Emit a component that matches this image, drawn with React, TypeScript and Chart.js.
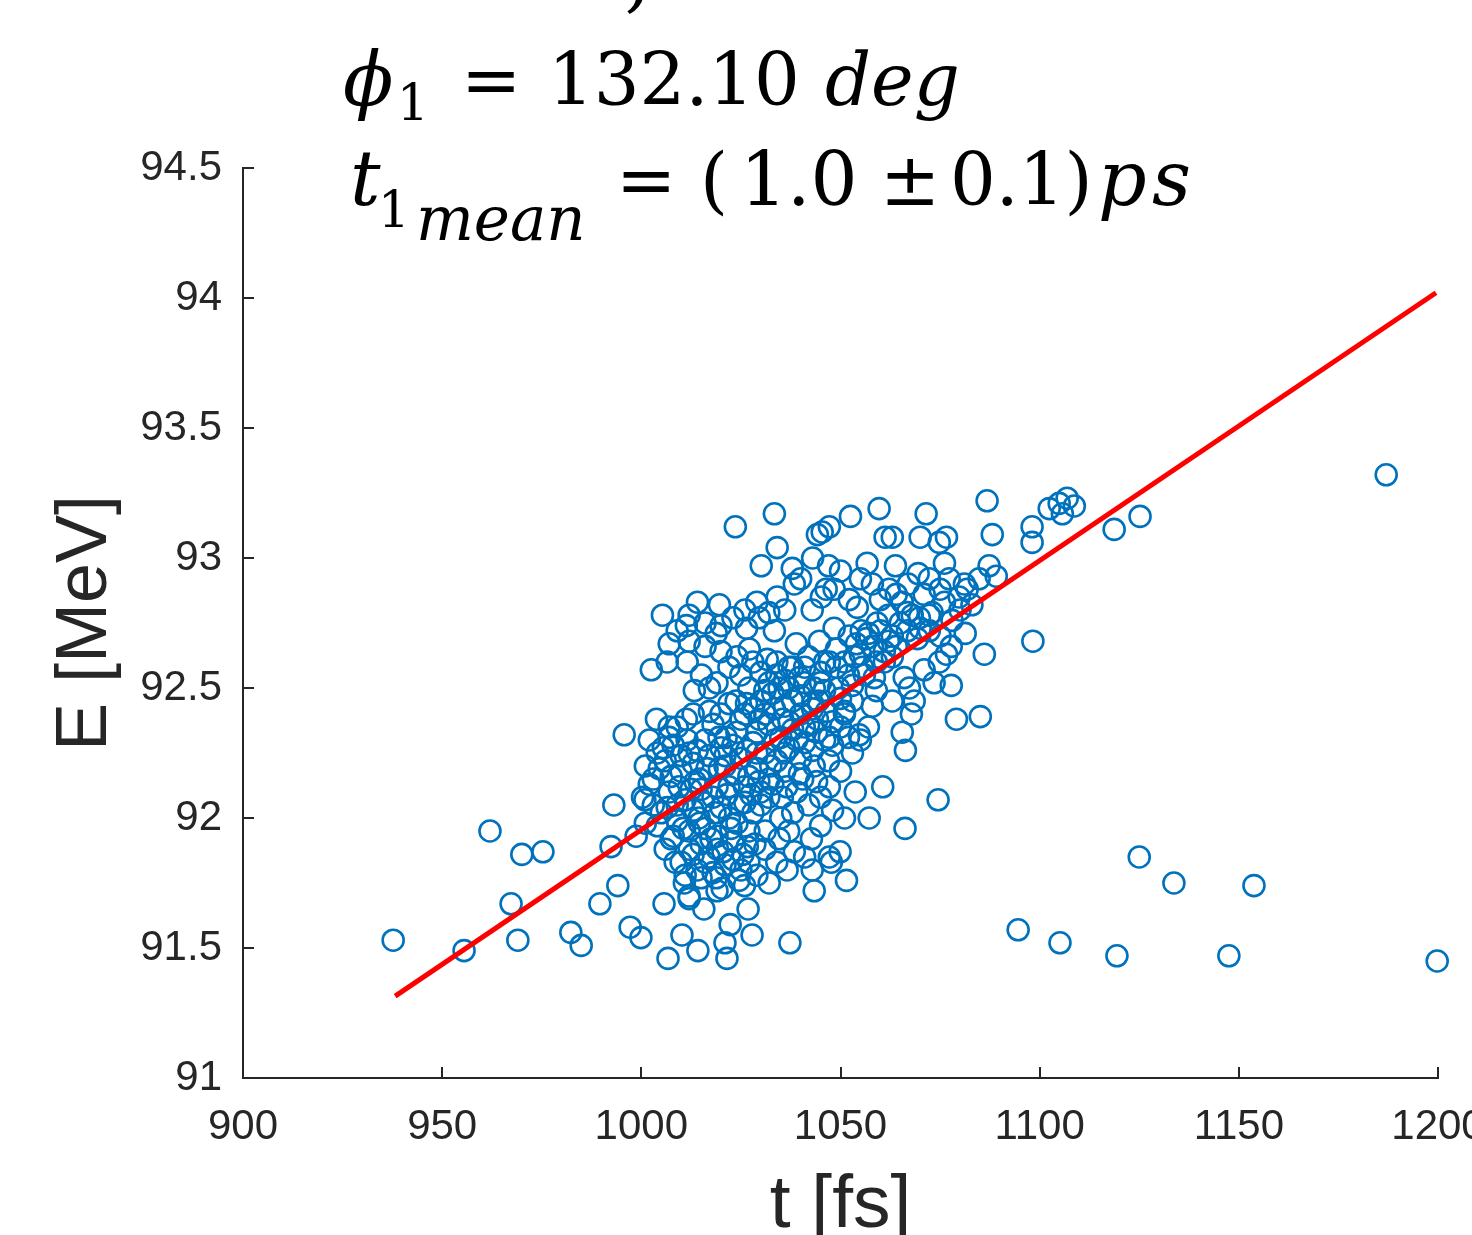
import React, { useEffect, useRef } from 'react';
import { Chart, registerables } from 'chart.js';

Chart.register(...registerables);

// ---------- axis ticks ----------
const xTickValues = [900, 950, 1000, 1050, 1100, 1150, 1200];
const xTickLabels = ['900', '950', '1000', '1050', '1100', '1150', '1200'];
const yTickValues = [91, 91.5, 92, 92.5, 93, 93.5, 94, 94.5];
const yTickLabels = ['91', '91.5', '92', '92.5', '93', '93.5', '94', '94.5'];

// ---------- measured shots: [t (fs), E (MeV)] ----------
const outlierShots: [number, number][] = [
  [937.7, 91.53], [955.5, 91.49], [962.0, 91.95], [967.3, 91.67], [969.0, 91.53], [970.0, 91.86],
  [975.3, 91.87], [982.3, 91.56], [984.9, 91.51], [989.6, 91.67], [992.4, 91.89], [993.1, 92.05],
  [994.1, 91.74], [995.7, 92.32], [997.2, 91.58], [998.7, 91.93], [999.9, 91.54], [1000.9, 92.07],
  [1006.7, 91.46], [1005.7, 91.67], [1010.2, 91.55], [1014.2, 91.49], [1015.7, 91.65], [1021.0, 91.52],
  [1021.5, 91.46], [1022.3, 91.59], [1027.8, 91.55], [1026.8, 91.65], [1037.3, 91.52], [1094.6, 91.57],
  [1105.1, 91.52], [1119.4, 91.47], [1125.0, 91.85], [1133.7, 91.75], [1147.5, 91.47], [1153.8, 91.74],
  [1199.8, 91.45], [1187.0, 93.32], [1125.2, 93.16], [1118.7, 93.11], [1098.3, 92.68], [1074.5, 92.07],
  [1066.2, 91.96], [1060.6, 92.12],
];

const upperShots: [number, number][] = [
  [1023.6, 93.12], [1033.4, 93.17], [1052.5, 93.16], [1059.7, 93.19], [1071.5, 93.17], [1086.8, 93.22],
  [1102.4, 93.19], [1104.9, 93.21], [1106.9, 93.23], [1108.7, 93.20], [1105.7, 93.17], [1098.1, 93.12],
  [1098.1, 93.06], [1088.1, 93.09], [1034.1, 93.04], [1044.2, 93.09], [1045.4, 93.10], [1047.2, 93.12],
  [1061.2, 93.08], [1063.0, 93.08], [1070.0, 93.08], [1074.8, 93.06], [1076.6, 93.08], [1030.1, 92.97],
  [1037.9, 92.96], [1046.4, 92.88], [1048.4, 92.88], [1056.7, 92.98], [1063.8, 92.97], [1069.5, 92.94],
  [1072.3, 92.92], [1076.1, 92.98], [1077.3, 92.92], [1081.1, 92.90], [1084.8, 92.92], [1087.3, 92.97],
  [1089.1, 92.93], [1038.4, 92.90], [1034.1, 92.85], [1042.9, 92.80], [1045.2, 92.85], [1052.2, 92.84],
  [1054.2, 92.81], [1062.2, 92.88], [1065.5, 92.83], [1066.8, 92.79], [1069.8, 92.77], [1072.3, 92.78],
  [1076.1, 92.83], [1079.8, 92.85], [1081.8, 92.88],
];

const midShots: [number, number][] = [
  [1005.3, 92.78], [1014.1, 92.83], [1019.6, 92.82], [1011.3, 92.74], [1018.8, 92.71], [1026.4, 92.73],
  [1029.6, 92.77], [1033.4, 92.72], [1038.9, 92.67], [1044.7, 92.68], [1048.4, 92.73], [1052.2, 92.70],
  [1055.2, 92.72], [1056.5, 92.69], [1059.2, 92.75], [1063.0, 92.70], [1066.8, 92.72], [1069.3, 92.69],
  [1072.3, 92.72], [1076.6, 92.63], [1077.8, 92.66], [1081.3, 92.71], [1086.1, 92.63], [1002.5, 92.57],
  [1006.5, 92.60], [1011.5, 92.60], [1015.1, 92.55], [1013.3, 92.49], [1023.8, 92.45], [1017.1, 92.50],
  [1027.1, 92.65], [1031.6, 92.61], [1034.6, 92.50], [1037.1, 92.58], [1039.7, 92.54], [1043.4, 92.50],
  [1047.2, 92.60], [1051.0, 92.60], [1053.5, 92.62], [1055.5, 92.58], [1058.5, 92.54], [1059.0, 92.49],
  [1066.0, 92.54], [1067.3, 92.50], [1067.8, 92.40], [1074.8, 92.60], [1077.8, 92.51], [1068.5, 92.45],
  [1071.0, 92.57], [1073.5, 92.52], [1063.0, 92.45], [1061.0, 92.60],
];

const lowerShots: [number, number][] = [
  [1003.8, 92.38], [1007.0, 92.35], [1011.3, 92.38], [1017.1, 92.41], [1021.3, 92.31], [1026.4, 92.44],
  [1029.6, 92.38], [1033.4, 92.42], [1037.1, 92.37], [1040.9, 92.35], [1044.2, 92.38], [1047.2, 92.31],
  [1051.0, 92.40], [1054.7, 92.32], [1065.5, 92.33], [1066.3, 92.26], [1079.1, 92.38], [1085.1, 92.39],
  [1002.0, 92.13], [1000.3, 92.08], [1004.5, 92.19], [1009.5, 92.12], [1014.6, 92.15], [1019.6, 92.19],
  [1025.9, 92.12], [1032.1, 92.15], [1035.4, 92.08], [1039.7, 92.17], [1043.4, 92.20], [1047.2, 92.12],
  [1053.7, 92.10], [1006.5, 92.04], [1004.0, 91.97], [1007.5, 91.92], [1012.0, 91.88], [1014.6, 91.98],
  [1019.1, 91.88], [1022.1, 92.00], [1026.6, 91.89], [1031.1, 91.95], [1034.6, 91.92], [1038.4, 91.87],
  [1042.7, 91.92], [1047.2, 91.85], [1051.0, 92.00], [1049.9, 91.87], [1047.7, 91.83], [1042.9, 91.80],
  [1057.2, 92.00], [1010.8, 91.75], [1012.0, 91.69], [1018.8, 91.77], [1020.3, 91.73], [1025.9, 91.74],
  [1032.1, 91.75], [1036.6, 91.80], [1043.4, 91.72], [1051.5, 91.76],
];

const coreLowShots: [number, number][] = [
  [1008, 92.28], [1012, 92.25], [1016, 92.30], [1020, 92.27], [1024, 92.33], [1028, 92.29],
  [1006, 92.22], [1010, 92.18], [1013, 92.21], [1017, 92.24], [1021, 92.20], [1025, 92.23], [1029, 92.19],
  [1007, 92.10], [1011, 92.07], [1015, 92.11], [1018, 92.08], [1022, 92.12], [1026, 92.06], [1030, 92.10],
  [1005, 92.02], [1009, 91.99], [1013, 92.03], [1016, 91.96], [1020, 92.04], [1024, 91.98], [1028, 92.02],
  [1008, 91.93], [1012, 91.95], [1015, 91.90], [1019, 91.93], [1023, 91.91], [1027, 91.95],
  [1010, 91.83], [1014, 91.80], [1017, 91.85], [1021, 91.82], [1025, 91.80],
  [1003, 92.15], [1004, 92.25], [1002, 92.30], [1001, 92.20], [1003, 92.05], [1001, 91.98],
  [1009, 92.35], [1013, 92.40], [1018, 92.36], [1022, 92.44], [1026, 92.40],
  [1015, 91.77], [1019, 91.72], [1012, 91.70],
];

const coreHighShots: [number, number][] = [
  [1030, 92.45], [1033, 92.48], [1036, 92.43], [1040, 92.47], [1043, 92.44], [1046, 92.49], [1050, 92.46],
  [1053, 92.51], [1056, 92.55], [1059, 92.60], [1029, 92.33], [1032, 92.36], [1035, 92.31], [1038, 92.34],
  [1041, 92.29], [1044, 92.33], [1048, 92.37], [1051, 92.41], [1031, 92.25], [1034, 92.22], [1037, 92.27],
  [1040, 92.23], [1043, 92.26], [1047, 92.22], [1030, 92.56], [1034, 92.60], [1038, 92.58], [1042, 92.62],
  [1045, 92.56], [1049, 92.58], [1052, 92.55], [1055, 92.63], [1058, 92.66], [1061, 92.64], [1063, 92.62],
  [1032, 92.52], [1036, 92.53], [1041, 92.52], [1046, 92.60], [1049, 92.65], [1054, 92.67], [1062, 92.68],
  [1064, 92.66], [1060, 92.72], [1057, 92.71], [1027, 92.50], [1025, 92.55], [1022, 92.58], [1019, 92.52],
  [1033, 92.13], [1036, 92.18], [1039, 92.10], [1042, 92.05], [1045, 92.08], [1038, 92.02], [1035, 92.00],
  [1030, 92.05], [1027, 92.16], [1031, 91.88], [1034, 91.83], [1029, 91.78], [1037, 91.95], [1041, 91.85],
  [1045, 91.97], [1048, 92.03], [1044, 92.14], [1050, 92.18], [1053, 92.25], [1055, 92.30], [1057, 92.35],
  [1058, 92.43], [1052, 92.31], [1048, 92.28],
];

const bandShots: [number, number][] = [
  [1062, 92.78], [1065, 92.75], [1068, 92.78], [1070, 92.73], [1073, 92.79], [1075, 92.70], [1078, 92.76],
  [1080, 92.80], [1083, 92.82], [1064, 92.86], [1060, 92.84], [1071, 92.86], [1075, 92.88], [1067, 92.90],
  [1058, 92.90], [1055, 92.92], [1047, 92.97], [1043, 93.00], [1050, 92.95], [1040, 92.92], [1036, 92.80],
  [1032, 92.79], [1029, 92.83], [1026, 92.80], [1023, 92.77], [1020, 92.74], [1016, 92.75], [1012, 92.78],
  [1009, 92.72], [1007, 92.67], [1012, 92.68], [1016, 92.66], [1020, 92.64], [1024, 92.62], [1028, 92.60],
];

const denseCoreShots: [number, number][] = [
  [1005.5, 92.27], [1007.5, 92.16], [1009, 92.05], [1010.5, 91.96], [1011.5, 92.30], [1013.5, 92.14],
  [1014.5, 92.00], [1016.5, 92.19], [1017.5, 91.92], [1018.5, 92.02], [1019.5, 92.31], [1021.5, 92.09],
  [1022.5, 91.96], [1023.5, 92.17], [1024.5, 92.05], [1025.5, 91.86], [1026.5, 92.26], [1027.5, 92.09],
  [1028.5, 91.90], [1029.5, 92.14], [1006, 91.88], [1008.5, 91.83], [1011, 91.78], [1013, 91.86],
  [1016, 91.83], [1018, 91.79], [1020.5, 91.87], [1023, 91.84], [1024.5, 91.76], [1027, 91.83],
  [1012.5, 92.11], [1015.5, 92.06], [1019, 92.12], [1021, 92.24], [1014, 92.26], [1010, 92.24],
  [1007, 92.31], [1023, 92.28], [1025, 92.38], [1020, 92.40], [1031, 92.40], [1033.5, 92.30],
  [1035.5, 92.38], [1038, 92.45], [1040, 92.40], [1042, 92.36], [1044.5, 92.45], [1046.5, 92.41],
  [1049.5, 92.50], [1032.5, 92.20], [1036, 92.25], [1039, 92.30], [1043, 92.42], [1046, 92.30],
  [1050, 92.35], [1053, 92.45], [1045, 92.52], [1041, 92.58], [1037, 92.50], [1034, 92.55],
  [1031, 92.49], [1028, 92.42], [1029, 92.25], [1032, 92.08], [1036.5, 92.12], [1040.5, 92.15],
];

// ---------- linear fit ----------
const fitT = [938.2, 1199.5];
const fitE = [91.315, 94.02];

const allShots = [
  ...outlierShots, ...upperShots, ...midShots, ...lowerShots,
  ...coreLowShots, ...coreHighShots, ...bandShots, ...denseCoreShots,
];

const AXIS_COLOR = '#262626';

const mathTitlePlugin = {
  id: 'mathTitle',
  afterDraw(chart: any) {
    const ctx = chart.ctx as CanvasRenderingContext2D;
    ctx.save();
    ctx.fillStyle = '#000000';
    ctx.textAlign = 'left';
    ctx.textBaseline = 'alphabetic';
    const seg = (text: string, x: number, y: number, size: number, italic: boolean) => {
      ctx.font = `${italic ? 'italic ' : ''}${size}px "DejaVu Serif", serif`;
      ctx.fillText(text, x, y);
    };
    // partially visible line above
    seg(',', 626, 4, 72, true);
    // line 1
    seg('ϕ', 343, 105, 74, true);
    seg('1', 397, 120, 50, false);
    seg('=', 461, 105, 72, false);
    seg('132.10', 548, 105, 72, false);
    seg('deg', 825, 105, 72, true);
    // line 2
    seg('t', 350, 205, 76, true);
    seg('1', 378, 227, 50, false);
    seg('mean', 416, 240, 61, true);
    seg('=', 616, 205, 72, false);
    seg('(', 700, 205, 72, false);
    seg('1.0', 740, 205, 74, false);
    seg('±', 880, 205, 72, false);
    seg('0.1)', 950, 205, 72, false);
    seg('p', 1098, 205, 76, true);
    seg('s', 1152, 205, 76, true);
    ctx.restore();
  },
};

export default function App() {
  const canvasRef = useRef<HTMLCanvasElement | null>(null);

  useEffect(() => {
    if (!canvasRef.current) return;
    const chart = new Chart(canvasRef.current, {
      type: 'scatter',
      data: {
        datasets: [
          {
            type: 'line',
            label: 'fit',
            data: fitT.map((t, i) => ({ x: t, y: fitE[i] })),
            borderColor: '#FF0000',
            borderWidth: 5,
            pointRadius: 0,
            showLine: true,
            fill: false,
            order: 0,
          } as any,
          {
            type: 'scatter',
            label: 'shots',
            data: allShots.map(([t, e]) => ({ x: t, y: e })),
            borderColor: '#0072BD',
            backgroundColor: 'rgba(0,0,0,0)',
            pointStyle: 'circle',
            pointRadius: 10.5,
            pointBorderWidth: 2.6,
            borderWidth: 2.6,
            showLine: false,
            clip: false,
            order: 1,
          } as any,
        ],
      },
      options: {
        animation: false,
        responsive: false,
        devicePixelRatio: 1,
        events: [],
        layout: { padding: { left: 0, top: 168, right: 34, bottom: 0 } },
        plugins: {
          legend: { display: false },
          tooltip: { enabled: false },
          title: { display: false },
        },
        scales: {
          x: {
            type: 'linear',
            position: 'bottom',
            min: 900,
            max: 1200,
            afterBuildTicks: (s: any) => {
              s.ticks = xTickValues.map((v) => ({ value: v }));
            },
            afterFit: (s: any) => {
              s.height = 157;
              s.paddingLeft = 0;
              s.paddingRight = 0;
              s.paddingTop = 0;
              s.paddingBottom = 0;
            },
            ticks: {
              callback: (_v: any, i: number) => xTickLabels[i],
              color: AXIS_COLOR,
              font: { family: '"Liberation Sans", Arial, sans-serif', size: 42 },
              padding: 35,
              maxRotation: 0,
              minRotation: 0,
              autoSkip: false,
            },
            grid: {
              display: true,
              drawOnChartArea: false,
              drawTicks: true,
              tickLength: -11,
              color: AXIS_COLOR,
              lineWidth: 2,
            },
            border: { display: true, color: AXIS_COLOR, width: 2 },
            title: {
              display: true,
              text: 't [fs]',
              color: AXIS_COLOR,
              font: { family: '"Liberation Sans", Arial, sans-serif', size: 75, lineHeight: 0.6 },
              padding: { top: 0, bottom: 6 },
            },
          },
          y: {
            type: 'linear',
            position: 'left',
            min: 91,
            max: 94.5,
            afterBuildTicks: (s: any) => {
              s.ticks = yTickValues.map((v) => ({ value: v }));
            },
            afterFit: (s: any) => {
              s.width = 243;
              s.paddingLeft = 0;
              s.paddingRight = 0;
              s.paddingTop = 0;
              s.paddingBottom = 0;
            },
            ticks: {
              callback: (_v: any, i: number) => yTickLabels[i],
              color: AXIS_COLOR,
              font: { family: '"Liberation Sans", Arial, sans-serif', size: 42 },
              padding: 32,
              autoSkip: false,
            },
            grid: {
              display: true,
              drawOnChartArea: false,
              drawTicks: true,
              tickLength: -11,
              color: AXIS_COLOR,
              lineWidth: 2,
            },
            border: { display: true, color: AXIS_COLOR, width: 2 },
            title: {
              display: true,
              text: 'E [MeV]',
              color: AXIS_COLOR,
              font: { family: '"Liberation Sans", Arial, sans-serif', size: 72, lineHeight: 0.6 },
              padding: { top: 65, bottom: 0 },
            },
          },
        },
      },
      plugins: [mathTitlePlugin],
    } as any);
    return () => chart.destroy();
  }, []);

  return (
    <div style={{ position: 'absolute', left: 0, top: 0, width: 1472, height: 1235, background: '#ffffff' }}>
      <canvas ref={canvasRef} width={1472} height={1235} style={{ display: 'block', width: 1472, height: 1235 }} />
    </div>
  );
}
